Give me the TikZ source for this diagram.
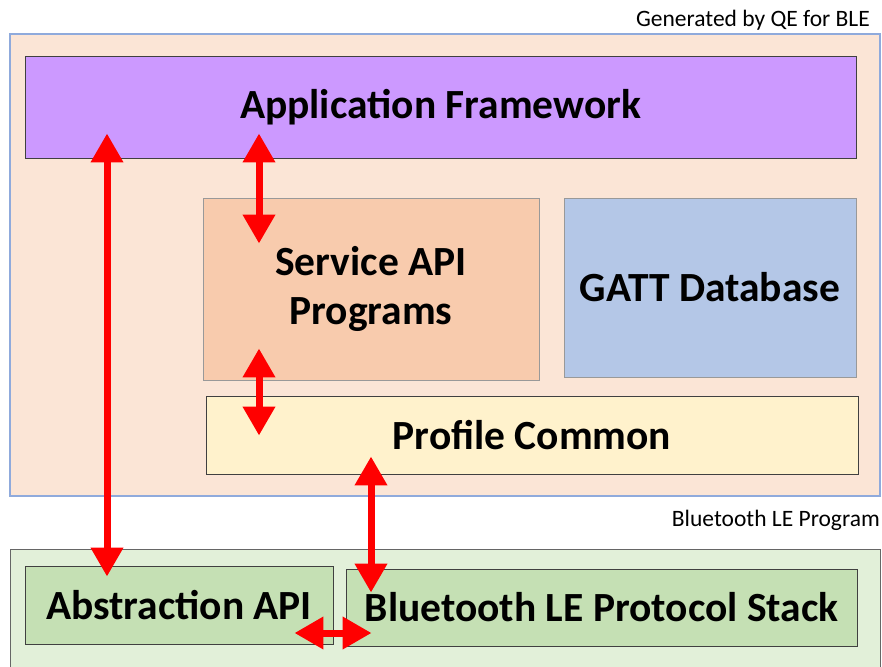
\documentclass[tikz,border=0pt]{standalone}
\usepackage{fontspec}
\setmainfont{Carlito}
\usepackage{xcolor}
\usepackage{tikz}
\usetikzlibrary{arrows.meta, positioning, calc}

\definecolor{progfill}{HTML}{FBE5D6}
\definecolor{progline}{HTML}{8FAADC}
\definecolor{appfill}{HTML}{CC99FF}
\definecolor{svcfill}{HTML}{F8CBAD}
\definecolor{gattfill}{HTML}{B4C7E7}
\definecolor{proffill}{HTML}{FFF2CC}
\definecolor{stackfill}{HTML}{E2F0D9}
\definecolor{greenfill}{HTML}{C5E0B4}

\begin{document}
\begin{tikzpicture}[
    x=1pt, y=-1pt,
    frame/.style={draw, rectangle, inner sep=0pt, line width=0.9pt},
    block/.style={frame, draw=black!75, align=center, font=\fontsize{41.5}{49}\selectfont\bfseries},
    softblock/.style={block, draw=black!40},
    caption/.style={inner sep=0pt, font=\fontsize{23.5}{27}\selectfont},
    biarrow/.style={red, line width=7pt, {Triangle[width=31pt,length=29pt]}-{Triangle[width=31pt,length=29pt]}}
]
\useasboundingbox (0,0) rectangle (882,666);

% Outer groups
\node[frame, draw=progline, line width=1.3pt, fill=progfill, minimum width=870pt, minimum height=462pt] (prog) at (445,265) {};
\node[frame, draw=black!60, fill=stackfill, minimum width=870pt, minimum height=132pt] (stack) at (445,615) {};

% Group captions
\node[caption, anchor=base east] (gencap) at (870,27) {Generated by QE for BLE};
\node[caption, anchor=base east] (progcap) at (880,526) {Bluetooth LE Program};

% Upper blocks
\node[block, fill=appfill, minimum width=831pt, minimum height=102pt] (app) at (440.5,107) {Application Framework};
\node[softblock, fill=svcfill, minimum width=336pt, minimum height=182pt] (svc) at (371,289) {Service API\\Programs};
\node[softblock, fill=gattfill, minimum width=292pt, minimum height=179pt] (gatt) at (710,287.5) {GATT Database};
\node[block, fill=proffill, minimum width=652pt, minimum height=78pt] (prof) at (532,435) {Profile Common};

% Lower blocks
\node[block, fill=greenfill, minimum width=308pt, minimum height=78pt] (abs) at (179,605) {Abstraction API};
\node[block, fill=greenfill, minimum width=511pt, minimum height=77pt] (ble) at (601.5,607.5) {Bluetooth LE Protocol Stack};

% Arrow columns
\coordinate (colA) at (107,0);
\coordinate (colB) at (259,0);
\coordinate (colC) at (371,0);

% Connections
\draw[biarrow] ([yshift=25pt]app.south -| colA) -- ([yshift=-11pt]abs.north -| colA);
\draw[biarrow] ([yshift=25pt]app.south -| colB) -- ([yshift=-46pt]svc.north -| colB);
\draw[biarrow] ([yshift=32pt]svc.south -| colB) -- ([yshift=-40pt]prof.north -| colB);
\draw[biarrow] ([yshift=18pt]prof.south -| colC) -- ([yshift=-24pt]ble.north -| colC);
\draw[biarrow] ([xshift=-39pt,yshift=-28pt]abs.east) -- ([xshift=26pt,yshift=-25.5pt]ble.west);

\end{tikzpicture}
\end{document}
